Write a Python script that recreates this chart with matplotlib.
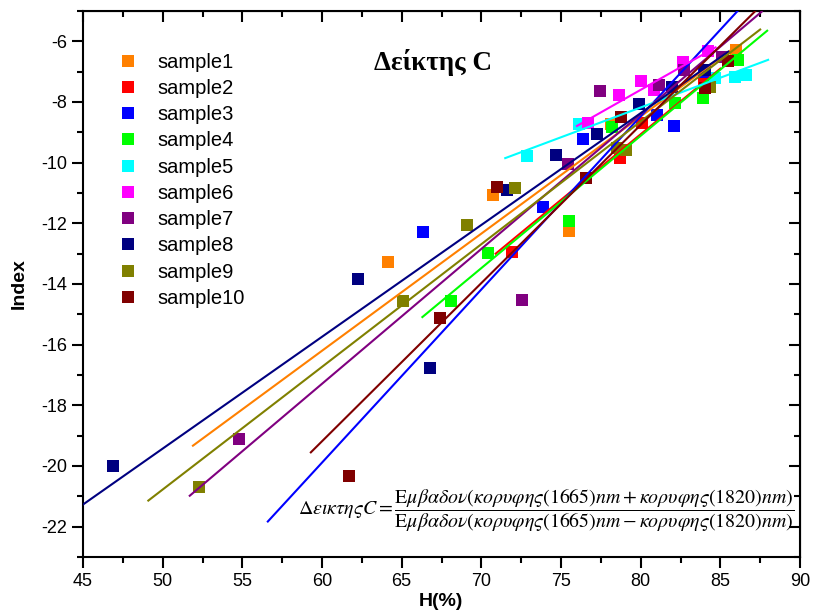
import matplotlib.pyplot as plt
from matplotlib.ticker import MultipleLocator

plt.rcParams['font.family'] = ['Liberation Sans', 'DejaVu Sans']
plt.rcParams['mathtext.fontset'] = 'stix'
plt.rcParams['axes.unicode_minus'] = False

names = ['sample1', 'sample2', 'sample3', 'sample4', 'sample5',
         'sample6', 'sample7', 'sample8', 'sample9', 'sample10']
colors = ['#FF8000', '#FF0000', '#0000FF', '#00FF00', '#00FFFF',
          '#FF00FF', '#800080', '#000080', '#808000', '#800000']

# measured points (H %, index)
h1 = [64.15, 70.74, 75.51, 78.15, 86.0]
c1 = [-13.29, -11.08, -12.24, -8.73, -6.3]
h2 = [71.93, 78.71, 80.09, 84.0]
c2 = [-12.96, -9.85, -8.69, -7.3]
h3 = [66.34, 73.88, 76.39, 81.03, 82.10, 84.0]
c3 = [-12.27, -11.47, -9.22, -8.43, -8.79, -7.0]
h4 = [68.10, 70.42, 75.51, 78.20, 82.16, 83.92, 86.12]
c4 = [-14.55, -12.99, -11.91, -8.83, -8.03, -7.86, -6.61]
h5 = [72.87, 76.14, 84.67, 85.93, 86.62]
c5 = [-9.79, -8.73, -7.20, -7.17, -7.10]
h6 = [76.70, 78.65, 80.03, 80.84, 82.66, 84.20]
c6 = [-8.69, -7.76, -7.30, -7.60, -6.67, -6.33]
h7 = [54.79, 72.56, 75.45, 77.45, 81.16, 82.73, 85.11]
c7 = [-19.12, -14.52, -10.05, -7.63, -7.43, -6.94, -6.51]
h8 = [46.88, 62.26, 66.78, 71.62, 74.69, 77.27, 79.90, 81.97, 84.05]
c8 = [-20.00, -13.83, -16.77, -10.91, -9.76, -9.06, -8.07, -7.50, -6.94]
h9 = [52.28, 65.09, 69.10, 72.12, 78.52, 79.09, 84.36]
c9 = [-20.68, -14.55, -12.04, -10.84, -9.52, -9.59, -7.50]
h10 = [61.70, 67.41, 70.99, 76.58, 78.77, 84.05, 85.49]
c10 = [-20.32, -15.12, -10.81, -10.51, -8.49, -7.53, -6.64]

# linear fit lines as drawn (start/end)
fit_h = [[51.9, 86.05], [70.9, 85.0], [56.6, 87.5], [66.3, 87.94], [71.5, 88.0],
         [76.0, 84.7], [51.7, 87.6], [45.0, 85.5], [49.1, 87.5], [59.3, 87.2]]
fit_c = [[-19.33, -6.14], [-13.0, -6.9], [-21.83, -4.19], [-15.09, -5.65], [-9.85, -6.61],
         [-8.79, -6.2], [-20.98, -5.02], [-21.27, -6.34], [-21.14, -5.61], [-19.55, -5.0]]

hs = [h1, h2, h3, h4, h5, h6, h7, h8, h9, h10]
cs = [c1, c2, c3, c4, c5, c6, c7, c8, c9, c10]

fig = plt.figure(figsize=(8.13, 6.13), dpi=100)
ax = fig.add_axes([83/813, 1-557/613, 717/813, 546/613])

for i in range(10):
    ax.plot(hs[i], cs[i], 's', color=colors[i], markersize=8.5, markeredgewidth=0,
            label=names[i], zorder=2)
for i in range(10):
    ax.plot(fit_h[i], fit_c[i], '-', color=colors[i], linewidth=1.5, zorder=3)

ax.set_xlim(45, 90)
ax.set_ylim(-23, -5)
ax.xaxis.set_major_locator(MultipleLocator(5))
ax.xaxis.set_minor_locator(MultipleLocator(2.5))
ax.yaxis.set_major_locator(MultipleLocator(2))
ax.yaxis.set_minor_locator(MultipleLocator(1))
ax.tick_params(which='both', direction='out', width=1.5, labelsize=13, top=False, right=False)
ax.tick_params(which='major', length=8)
ax.tick_params(which='minor', length=4)
for s in ax.spines.values():
    s.set_linewidth(1.5)

top = ax.secondary_xaxis('top')
top.xaxis.set_major_locator(MultipleLocator(5))
top.xaxis.set_minor_locator(MultipleLocator(2.5))
top.tick_params(which='both', direction='in', width=1.5, labeltop=False)
top.tick_params(which='major', length=8)
top.tick_params(which='minor', length=4)
right = ax.secondary_yaxis('right')
right.yaxis.set_major_locator(MultipleLocator(2))
right.yaxis.set_minor_locator(MultipleLocator(1))
right.tick_params(which='both', direction='in', width=1.5, labelright=False)
right.tick_params(which='major', length=8)
right.tick_params(which='minor', length=4)

ax.legend(loc='upper left', bbox_to_anchor=(0.0404, 0.9385), frameon=False, fontsize=14.5,
          handlelength=0.8, handletextpad=1.04, labelspacing=0.36, borderaxespad=0)

fig.text(441/813, 1-602/613, 'H(%)', fontsize=14, fontweight='bold', ha='center', va='center')
fig.text(19/813, 1-284/613, 'Index', fontsize=14, fontweight='bold', rotation=90,
         ha='center', va='center')
fig.text(433/813, 1-63/613, 'Δείκτης C', family='Liberation Serif', fontsize=19.5,
         fontweight='bold', ha='center', va='center')

formula = (r'$\Delta\varepsilon\iota\kappa\tau\eta\varsigma C = '
           r'\dfrac{\mathrm{E}\mu\beta\alpha\delta o\nu(\kappa o\rho\upsilon\varphi\eta\varsigma(1665)nm'
           r'+\kappa o\rho\upsilon\varphi\eta\varsigma(1820)nm)}'
           r'{\mathrm{E}\mu\beta\alpha\delta o\nu(\kappa o\rho\upsilon\varphi\eta\varsigma(1665)nm'
           r'-\kappa o\rho\upsilon\varphi\eta\varsigma(1820)nm)}$')
fig.text(794/813, 1-511/613, formula, fontsize=14.3, ha='right', va='center')

fig.savefig('out.png', dpi=100)
